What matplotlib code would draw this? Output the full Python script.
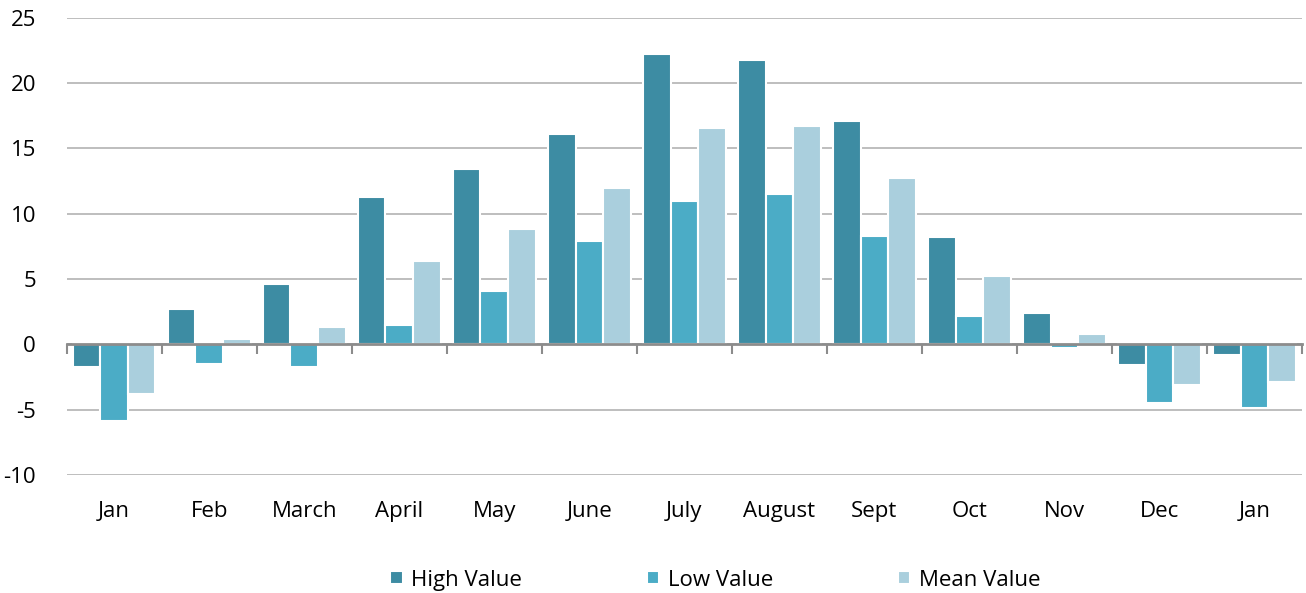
import numpy as np
from matplotlib import pyplot as plt
from matplotlib.ticker import FixedLocator, MultipleLocator

plt.rcParams['font.family'] = ['Open Sans', 'DejaVu Sans']
plt.rcParams['axes.unicode_minus'] = False

months = ['Jan', 'Feb', 'March', 'April', 'May', 'June', 'July', 'August',
          'Sept', 'Oct', 'Nov', 'Dec', 'Jan']
high = [-1.7, 2.7, 4.6, 11.3, 13.4, 16.1, 22.2, 21.8, 17.1, 8.2, 2.4, -1.6, -0.8]
low = [-5.9, -1.5, -1.7, 1.5, 4.1, 7.9, 11.0, 11.5, 8.3, 2.2, -0.3, -4.5, -4.9]
mean = [-3.8, 0.4, 1.3, 6.4, 8.8, 12.0, 16.6, 16.7, 12.7, 5.2, 0.8, -3.1, -2.9]

series = [('High Value', high, '#3d8ca3'),
          ('Low Value', low, '#4bacc6'),
          ('Mean Value', mean, '#aacfdd')]

fig = plt.figure(figsize=(13.06, 5.93), dpi=100)
ax = fig.add_axes([0.051, 0.199, 0.946, 0.771])

x = np.arange(len(months))
w = 0.29
for i, (name, vals, col) in enumerate(series):
    ax.bar(x + (i - 1) * w, vals, width=w, color=col, edgecolor='white',
           linewidth=1.5, label=name, zorder=2)

ax.set_xlim(-0.5, len(months) - 0.5)
ax.set_ylim(-10, 25)
ax.yaxis.set_major_locator(MultipleLocator(5))
ax.grid(axis='y', color='#b3b3b3', linewidth=1.2, zorder=0)
ax.set_axisbelow(True)

for s in ['top', 'right', 'left']:
    ax.spines[s].set_visible(False)
ax.spines['bottom'].set_position(('data', 0))
ax.spines['bottom'].set_color('#8c8c8c')
ax.spines['bottom'].set_linewidth(2)
ax.spines['bottom'].set_zorder(3)

# group boundary ticks on the zero line
ax.xaxis.set_major_locator(FixedLocator(np.arange(len(months) + 1) - 0.5))
ax.tick_params(axis='x', length=7, width=1.5, color='#8c8c8c', labelbottom=False)
ax.tick_params(axis='y', length=0, labelsize=16, pad=22)

# category labels below the plot area
for xi, m in zip(x, months):
    ax.text(xi, -0.08, m, transform=ax.get_xaxis_transform(), ha='center',
            va='center', fontsize=16, color='#000000')

ax.legend(loc='center', bbox_to_anchor=(0.525, -0.23), ncol=3, frameon=False,
          fontsize=16, handlelength=0.55, handleheight=0.55, handletextpad=0.4,
          columnspacing=5.6)

fig.savefig('out.png', dpi=100)
